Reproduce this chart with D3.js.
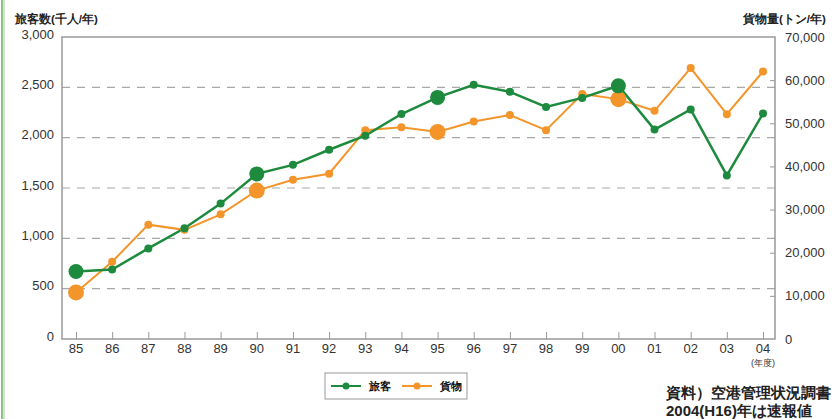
<!DOCTYPE html>
<html><head><meta charset="utf-8">
<script src="https://cdn.jsdelivr.net/npm/d3@7"></script>
<style>body{margin:0;background:#fff;overflow:hidden}svg{display:block}text{font-family:"Liberation Sans",Arial,sans-serif}</style>
</head><body>
<script>
const years = ["85","86","87","88","89","90","91","92","93","94","95","96","97","98","99","00","01","02","03","04"];
const passengers = [670,690,900,1100,1345,1640,1730,1880,2020,2235,2400,2525,2455,2305,2395,2515,2080,2280,1625,2240];
const cargo = [10800,17900,26500,25300,28900,34400,36900,38300,48400,49100,48000,50400,51900,48400,56800,55600,52900,62800,52100,62000];
const bigYears = ["85","90","95","00"];
const leftTicks = [0,500,1000,1500,2000,2500,3000];
const rightTicks = [0,10000,20000,30000,40000,50000,60000,70000];
const seriesNames = ["旅客","貨物"];

const W=833,H=419;
const svg=d3.select("body").append("svg").attr("width",W).attr("height",H);
const L=62,R=775,T=37,B=339;
const green="#1d8a3e", orange="#f3952b";

// left green border
svg.append("rect").attr("x",1).attr("y",0).attr("width",2).attr("height",H).attr("fill","#8fc08a");
svg.append("rect").attr("x",3).attr("y",0).attr("width",2).attr("height",H).attr("fill","#cfe6c9");

const x=d3.scalePoint().domain(years).range([76,763]);
const yL=d3.scaleLinear().domain([0,3000]).range([B,T]);
const yR=d3.scaleLinear().domain([0,70000]).range([B,T]);

// gridlines
svg.append("g").selectAll("line").data(leftTicks.filter(d=>d>0&&d<3000)).join("line")
 .attr("x1",L).attr("x2",R).attr("y1",d=>yL(d)).attr("y2",d=>yL(d))
 .attr("stroke","#a8a8a8").attr("stroke-width",1.2).attr("stroke-dasharray","8,7");

// frame
svg.append("rect").attr("x",L).attr("y",T).attr("width",R-L).attr("height",B-T)
 .attr("fill","none").attr("stroke","#999").attr("stroke-width",1.5);

// left axis labels
const ga=d3.axisLeft(yL).tickValues(leftTicks).tickSize(0).tickPadding(8).tickFormat(d3.format(","));
const gl=svg.append("g").attr("transform",`translate(${L},0)`).call(ga);
gl.select(".domain").remove();
gl.selectAll("text").attr("font-size",13).attr("fill","#333").attr("dy","0.1em");

// right axis
const gr=svg.append("g").attr("transform",`translate(${R},0)`).call(d3.axisLeft(yR).tickValues(rightTicks.filter(d=>d>0&&d<70000)).tickSize(5).tickFormat(""));
gr.select(".domain").remove();
gr.selectAll("line").attr("stroke","#999");
svg.append("g").selectAll("text").data(rightTicks).join("text")
 .attr("x",R+10).attr("y",d=>yR(d)).attr("dy","0.35em").attr("font-size",13).attr("fill","#333")
 .text(d=>d3.format(",")(d));

// x axis
const gx=svg.append("g").attr("transform",`translate(0,${B})`).call(d3.axisTop(x).tickSize(7).tickFormat(""));
gx.select(".domain").remove();
gx.selectAll("line").attr("stroke","#999");
svg.append("g").selectAll("text").data(years).join("text")
 .attr("x",d=>x(d)).attr("y",B+14).attr("text-anchor","middle").attr("font-size",13).attr("fill","#333").text(d=>d);
svg.append("text").attr("x",x("04")).attr("y",366).attr("text-anchor","middle").attr("font-size",9).attr("fill","#333").text("(年度)");

// titles
svg.append("text").attr("x",15).attr("y",23).attr("font-size",11.5).attr("font-weight","bold").attr("fill","#222").text("旅客数(千人/年)");
svg.append("text").attr("x",743).attr("y",23).attr("font-size",11.5).attr("font-weight","bold").attr("fill","#222").text("貨物量(トン/年)");

// lines
const lineL=d3.line().x((d,i)=>x(years[i])).y(d=>yL(d));
const lineR=d3.line().x((d,i)=>x(years[i])).y(d=>yR(d));
svg.append("path").datum(cargo).attr("d",lineR).attr("fill","none").attr("stroke",orange).attr("stroke-width",2);
svg.append("path").datum(passengers).attr("d",lineL).attr("fill","none").attr("stroke",green).attr("stroke-width",2.5);
svg.append("g").selectAll("circle").data(cargo).join("circle")
 .attr("cx",(d,i)=>x(years[i])).attr("cy",d=>yR(d)).attr("r",(d,i)=>bigYears.includes(years[i])?8:4).attr("fill",orange);
svg.append("g").selectAll("circle").data(passengers).join("circle")
 .attr("cx",(d,i)=>x(years[i])).attr("cy",d=>yL(d)).attr("r",(d,i)=>bigYears.includes(years[i])?7.5:4).attr("fill",green);

// legend
const lg=svg.append("g");
lg.append("rect").attr("x",325).attr("y",373).attr("width",142).attr("height",26).attr("fill","#fff").attr("stroke","#999").attr("stroke-width",1);
[[green,331,seriesNames[0]],[orange,402,seriesNames[1]]].forEach(([c,x0,t])=>{
  lg.append("line").attr("x1",x0).attr("x2",x0+30).attr("y1",386).attr("y2",386).attr("stroke",c).attr("stroke-width",2);
  lg.append("circle").attr("cx",x0+15).attr("cy",386).attr("r",3.5).attr("fill",c);
  lg.append("text").attr("x",x0+38).attr("y",390).attr("font-size",11).attr("font-weight","bold").attr("fill","#111").text(t);
});

// footnote
svg.append("text").attr("x",666).attr("y",398).attr("font-size",15).attr("font-weight","bold").attr("fill","#222").text("資料）空港管理状況調書");
svg.append("text").attr("x",666).attr("y",416).attr("font-size",15).attr("font-weight","bold").attr("fill","#222").text("2004(H16)年は速報値");
</script>
</body></html>
